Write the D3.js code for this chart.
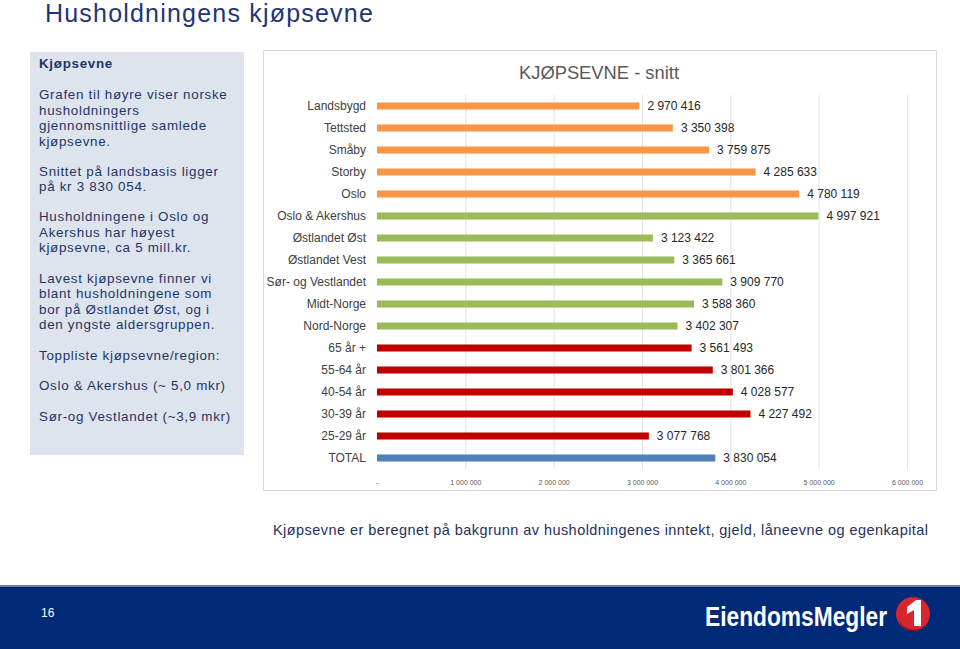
<!DOCTYPE html>
<html><head><meta charset="utf-8">
<script src="https://cdn.jsdelivr.net/npm/d3@7"></script>
<style>
html,body{margin:0;padding:0;background:#fff;}
svg{display:block;}
</style></head>
<body>
<svg id="c" width="960" height="649"></svg>
<script>
const categories = ["Landsbygd","Tettsted","Småby","Storby","Oslo","Oslo & Akershus","Østlandet Øst","Østlandet Vest","Sør- og Vestlandet","Midt-Norge","Nord-Norge","65 år +","55-64 år","40-54 år","30-39 år","25-29 år","TOTAL"];
const values = [2970416,3350398,3759875,4285633,4780119,4997921,3123422,3365661,3909770,3588360,3402307,3561493,3801366,4028577,4227492,3077768,3830054];
const groups = ["bosted","bosted","bosted","bosted","bosted","region","region","region","region","region","region","alder","alder","alder","alder","alder","total"];
const groupNames = ["bosted","region","alder","total"];
const groupColors = ["#f79646","#9bbb59","#c00000","#4f81bd"];
const tickValues = [0,1000000,2000000,3000000,4000000,5000000,6000000];
const tickLabels = ["-","1 000 000","2 000 000","3 000 000","4 000 000","5 000 000","6 000 000"];
const panelLines = [
 ["Kjøpsevne", true, 68],
 ["Grafen til høyre viser norske", false, 99],
 ["husholdningers", false, 115],
 ["gjennomsnittlige samlede", false, 130],
 ["kjøpsevne.", false, 146],
 ["Snittet på landsbasis ligger", false, 176],
 ["på kr 3 830 054.", false, 191],
 ["Husholdningene i Oslo og", false, 221],
 ["Akershus har høyest", false, 237],
 ["kjøpsevne, ca 5 mill.kr.", false, 252],
 ["Lavest kjøpsevne finner vi", false, 283],
 ["blant husholdningene som", false, 298],
 ["bor på Østlandet Øst, og i", false, 314],
 ["den yngste aldersgruppen.", false, 329],
 ["Toppliste kjøpsevne/region:", false, 360],
 ["Oslo & Akershus (~ 5,0 mkr)", false, 390],
 ["Sør-og Vestlandet (~3,9 mkr)", false, 421]
];

const svg = d3.select("#c");
const fmt = v => d3.format(",")(v).replace(/,/g, " ");

// Page title
svg.append("text").attr("x",45).attr("y",22)
  .attr("font-family","Liberation Sans, Arial, sans-serif").attr("font-size",25)
  .attr("letter-spacing",1.2).attr("fill","#1f3575").text("Husholdningens kjøpsevne");

// Left panel
svg.append("rect").attr("x",30).attr("y",52).attr("width",214).attr("height",403).attr("fill","#dee4ee");
svg.append("g").selectAll("text").data(panelLines).join("text")
  .attr("x",39).attr("y",d=>d[2])
  .attr("font-family","Liberation Sans, Arial, sans-serif").attr("font-size",13.4)
  .attr("letter-spacing",0.7)
  .attr("font-weight",d=>d[1]?"bold":"normal")
  .attr("fill","#1f3468").text(d=>d[0]);

// Chart box
svg.append("rect").attr("x",263.5).attr("y",50.5).attr("width",673).attr("height",440)
  .attr("fill","#fff").attr("stroke","#d9d9d9");

svg.append("text").attr("x",599).attr("y",79).attr("text-anchor","middle")
  .attr("font-family","Liberation Sans Narrow, Liberation Sans, Arial, sans-serif").attr("font-size",19)
  .attr("textLength",160).attr("lengthAdjust","spacingAndGlyphs")
  .attr("fill","#595959").text("KJØPSEVNE - snitt");

const x = d3.scaleLinear().domain([0,6000000]).range([377,907]);
const y = d3.scaleBand().domain(categories).range([95,469]).paddingInner(0.68).paddingOuter(0.34);
const color = d3.scaleOrdinal().domain(groupNames).range(groupColors);

// gridlines
svg.append("g").selectAll("line").data(tickValues.slice(1)).join("line")
  .attr("x1",d=>x(d)+0.5).attr("x2",d=>x(d)+0.5).attr("y1",95).attr("y2",469)
  .attr("stroke","#e3e3e3").attr("stroke-width",1);

// x axis tick labels
const xAxis = d3.axisBottom(x).tickValues(tickValues).tickFormat((d,i)=>tickLabels[i]).tickSize(0).tickPadding(6);
const gx = svg.append("g").attr("transform","translate(0,474)").call(xAxis);
gx.select(".domain").remove();
gx.selectAll("text").attr("font-family","Liberation Sans Narrow, Liberation Sans, Arial, sans-serif")
  .attr("font-size",7).attr("fill","#595959");

// y axis labels
const yAxis = d3.axisLeft(y).tickSize(0).tickPadding(11);
const gy = svg.append("g").attr("transform","translate(377,0)").call(yAxis);
gy.select(".domain").remove();
gy.selectAll("text").attr("font-family","Liberation Sans Narrow, Liberation Sans, Arial, sans-serif")
  .attr("font-size",12).attr("fill","#404040");

// bars
const data = categories.map((c,i)=>({c, v:values[i], g:groups[i]}));
svg.append("g").selectAll("rect").data(data).join("rect")
  .attr("x",x(0)).attr("y",d=>y(d.c)).attr("width",d=>x(d.v)-x(0)).attr("height",y.bandwidth())
  .attr("fill",d=>color(d.g));

// value labels
svg.append("g").selectAll("text").data(data).join("text")
  .attr("x",d=>x(d.v)+8).attr("y",d=>y(d.c)+y.bandwidth()/2).attr("dy","0.35em")
  .attr("font-family","Liberation Sans Narrow, Liberation Sans, Arial, sans-serif").attr("font-size",12)
  .attr("fill","#262626").text(d=>fmt(d.v));

// Bottom note
svg.append("text").attr("x",273).attr("y",535)
  .attr("font-family","Liberation Sans, Arial, sans-serif").attr("font-size",14.5)
  .attr("textLength",655).attr("lengthAdjust","spacing").attr("fill","#1f2f5e")
  .text("Kjøpsevne er beregnet på bakgrunn av husholdningenes inntekt, gjeld, låneevne og egenkapital");

// Footer
svg.append("rect").attr("x",0).attr("y",585).attr("width",960).attr("height",2).attr("fill","#6b7fb5");
svg.append("rect").attr("x",0).attr("y",587).attr("width",960).attr("height",62).attr("fill","#002a78");
svg.append("text").attr("x",41).attr("y",617).attr("font-family","Liberation Sans, Arial, sans-serif")
  .attr("font-size",12).attr("fill","#fff").text("16");
svg.append("text").attr("x",705).attr("y",626).attr("font-family","Liberation Sans Narrow, Liberation Sans, Arial, sans-serif")
  .attr("font-size",27).attr("font-weight","bold").attr("fill","#fff").attr("textLength",182).attr("lengthAdjust","spacingAndGlyphs")
  .text("EiendomsMegler");
const logo = svg.append("g").attr("transform","translate(913,614)");
logo.append("circle").attr("r",17).attr("fill","#d7262e");
logo.append("path").attr("d","M-14,6 A17,17 0 0 0 12,12 A15,15 0 0 1 -14,6Z").attr("fill","#8a1119");
// logo numeral "1" drawn as a shape
logo.append("path").attr("d","M-6,-7 L3,-14 L8,-14 L8,12 L1,12 L1,-4 L-6,0 Z").attr("fill","#fff");
</script>
</body></html>
